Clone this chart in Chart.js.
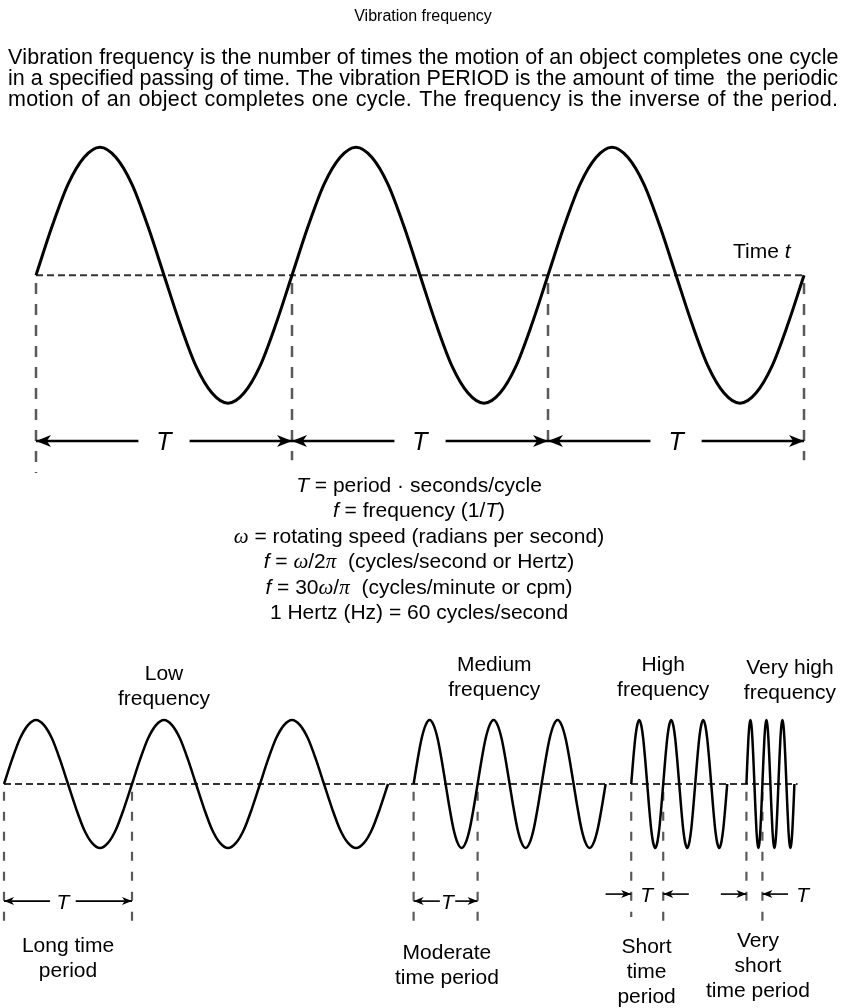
<!DOCTYPE html>
<html>
<head>
<meta charset="utf-8">
<title>Vibration frequency</title>
<script src="https://cdn.jsdelivr.net/npm/chart.js"></script>
<style>
  html, body { margin: 0; padding: 0; background: #ffffff; }
  #box { position: relative; width: 846px; height: 1008px; }
</style>
</head>
<body>
<div id="box"><canvas id="waveChart" width="846" height="1008"></canvas></div>
<script>
// ---- values ----
// x = time, in low-frequency periods; y = displacement, in bottom-wave amplitudes

// one vibration cycle, read every 1/16 of a period (peak = 1)
const cycleShape = [0, 0.38, 0.71, 0.92, 1, 0.92, 0.71, 0.38, 0, -0.38, -0.71, -0.92, -1, -0.92, -0.71, -0.38];

const waveNames   = ['Period T', 'Low frequency', 'Medium frequency', 'High frequency', 'Very high frequency'];
const waveStarts  = [0.25, 0, 3.2, 4.9, 5.8];
const wavePeriods = [2, 1, 0.5, 0.25, 0.125];
const waveCycles  = [3, 3, 3, 3, 3];
const waveAmps    = [2, 1, 1, 1, 1];
const waveBases   = [7.95, 0, 0, 0, 0];

// dashed time axes
const timeAxisTop    = [0.25, 6.25];
const timeAxisBottom = [0, 6.2];

// ---- text ----
const titleText = 'Vibration frequency';
const introLines = [
  'Vibration frequency is the number of times the motion of an object completes one cycle',
  'in a specified passing of time. The vibration PERIOD is the amount of time  the periodic',
  'motion of an object completes one cycle. The frequency is the inverse of the period.'
];
// runs: [text, style]  '' = upright, 'i' = italic, 'g' = greek symbol
const formulaLines = [
  [['T', 'i'], [' = period \u00b7 seconds/cycle', '']],
  [['f', 'i'], [' = frequency (1/', ''], ['T', 'i'], [')', '']],
  [['\u03c9', 'g'], [' = rotating speed (radians per second)', '']],
  [['f', 'i'], [' = ', ''], ['\u03c9', 'g'], ['/2', ''], ['\u03c0', 'g'], ['  (cycles/second or Hertz)', '']],
  [['f', 'i'], [' = 30', ''], ['\u03c9', 'g'], ['/', ''], ['\u03c0', 'g'], ['  (cycles/minute or cpm)', '']],
  [['1 Hertz (Hz) = 60 cycles/second', '']]
];
const waveLabelLines = [
  ['Low', 'frequency'],
  ['Medium', 'frequency'],
  ['High', 'frequency'],
  ['Very high', 'frequency']
];
const periodLabelLines = [
  ['Long time', 'period'],
  ['Moderate', 'time period'],
  ['Short', 'time', 'period'],
  ['Very', 'short', 'time period']
];

// ---- layout ----
const sans = '"Liberation Sans", Arial, Helvetica, sans-serif';
const serif = '"Liberation Serif", "Times New Roman", serif';
const layout = {
  xRange: [-0.03125, 6.578],
  yRange: [-3.5, 12.25],
  lineStep: 0.39,
  topArrowY: 5.36,
  topGap: 0.2,
  topMarkEnds: [4.86, 5.06, 5.27, 5.06],
  timeLabel: { x: 5.92, y: 8.22 },
  // bottom dimension markers, one per bottom wave
  dims: [
    { kind: 'out', y: -1.83, label: 0.46, gap: 0.1, ends: [-2.25, -2.28] },
    { kind: 'out', y: -1.83, label: 3.465, gap: 0.06, ends: [-2.28, -2.28] },
    { kind: 'in', y: -1.72, label: 5.02, reach: 0.2, ends: [-2.08, -2.16] },
    { kind: 'in', y: -1.72, label: 6.24, reach: 0.2, ends: [-1.97, -2.16] }
  ],
  waveLabelPos: [{ x: 1.25, y: 1.625 }, { x: 3.83, y: 1.766 }, { x: 5.15, y: 1.766 }, { x: 6.14, y: 1.72 }],
  periodLabelPos: [{ x: 0.5, y: -2.625 }, { x: 3.46, y: -2.73 }, { x: 5.02, y: -2.64 }, { x: 5.89, y: -2.55 }]
};

// ---- datasets ----
const datasets = [];
const arrowHeads = [];

function segment(x1, y1, x2, y2, color, width, dash, order) {
  datasets.push({
    data: [{ x: x1, y: y1 }, { x: x2, y: y2 }],
    borderColor: color, borderWidth: width, borderDash: dash || [],
    pointRadius: 0, tension: 0, order: order, fill: false
  });
}

waveNames.forEach((name, i) => {
  const pts = [];
  const step = wavePeriods[i] / cycleShape.length;
  for (let c = 0; c < waveCycles[i]; c++) {
    cycleShape.forEach((v, k) => {
      pts.push({ x: waveStarts[i] + (c * cycleShape.length + k) * step, y: waveBases[i] + waveAmps[i] * v });
    });
  }
  pts.push({ x: waveStarts[i] + waveCycles[i] * wavePeriods[i], y: waveBases[i] + waveAmps[i] * cycleShape[0] });
  datasets.push({
    label: name, data: pts, borderColor: '#000', borderWidth: i === 0 ? 3 : 2.5,
    cubicInterpolationMode: 'monotone', pointRadius: 0, order: 0, fill: false
  });
});

// time axes
segment(timeAxisTop[0], waveBases[0], timeAxisTop[1], waveBases[0], '#333', 2, [7, 4], 2);
segment(timeAxisBottom[0], waveBases[1], timeAxisBottom[1], waveBases[1], '#333', 2, [7, 4], 2);

// top wave: period marks and T dimensions
for (let k = 0; k <= waveCycles[0]; k++) {
  const xm = waveStarts[0] + k * wavePeriods[0];
  segment(xm, waveBases[0] - 0.12, xm, layout.topMarkEnds[k], '#5a5a5a', 2.5, [11, 10], 1);
}
for (let k = 0; k < waveCycles[0]; k++) {
  const a = waveStarts[0] + k * wavePeriods[0];
  const b = a + wavePeriods[0];
  const m = (a + b) / 2;
  segment(a, layout.topArrowY, m - layout.topGap, layout.topArrowY, '#000', 2.5, [], 0);
  segment(m + layout.topGap, layout.topArrowY, b, layout.topArrowY, '#000', 2.5, [], 0);
  arrowHeads.push({ x: a, y: layout.topArrowY, dir: -1, big: true });
  arrowHeads.push({ x: b, y: layout.topArrowY, dir: 1, big: true });
}

// bottom waves: first period marked
layout.dims.forEach((d, j) => {
  const i = j + 1;
  const a = waveStarts[i];
  const b = a + wavePeriods[i];
  segment(a, waveBases[i] - 0.12, a, d.ends[0], '#5a5a5a', 2.2, [9, 11], 1);
  segment(b, waveBases[i] - 0.12, b, d.ends[1], '#5a5a5a', 2.2, [9, 11], 1);
  if (d.kind === 'out') {
    segment(a, d.y, d.label - d.gap, d.y, '#000', 1.6, [], 0);
    segment(d.label + d.gap, d.y, b, d.y, '#000', 1.6, [], 0);
    arrowHeads.push({ x: a, y: d.y, dir: -1, big: false });
    arrowHeads.push({ x: b, y: d.y, dir: 1, big: false });
  } else {
    segment(a - d.reach, d.y, a, d.y, '#000', 1.6, [], 0);
    segment(b + d.reach, d.y, b, d.y, '#000', 1.6, [], 0);
    arrowHeads.push({ x: a, y: d.y, dir: 1, big: false });
    arrowHeads.push({ x: b, y: d.y, dir: -1, big: false });
  }
});

// ---- drawing helpers ----
function runFont(style, size) {
  if (style === 'i') return 'italic ' + size + 'px ' + sans;
  if (style === 'g') return 'italic ' + size + 'px ' + serif;
  return size + 'px ' + sans;
}

function drawRuns(ctx, runs, cx, baseY, size) {
  let total = 0;
  const widths = runs.map(([t, s]) => {
    ctx.font = runFont(s, size);
    const w = ctx.measureText(t).width;
    total += w;
    return w;
  });
  let x = cx - total / 2;
  runs.forEach(([t, s], k) => {
    ctx.font = runFont(s, size);
    ctx.fillText(t, x, baseY);
    x += widths[k];
  });
}

// stretch a line to the full text width: a little letter spacing, the rest in the word gaps
function drawJustified(ctx, text, left, right, baseY) {
  const natural = ctx.measureText(text).width;
  const extra = right - left - natural;
  const chars = Array.from(text);
  const words = text.split(' ');
  const perChar = extra * 0.6 / (chars.length - 1);
  const perGap = extra * 0.4 / (words.length - 1);
  let x = left;
  chars.forEach(ch => {
    ctx.fillText(ch, x, baseY);
    x += ctx.measureText(ch).width + perChar + (ch === ' ' ? perGap : 0);
  });
}

function arrowHead(ctx, x, y, dir, len, half) {
  ctx.beginPath();
  ctx.moveTo(x, y);
  ctx.lineTo(x - dir * len, y - half);
  ctx.lineTo(x - dir * len * 0.72, y);
  ctx.lineTo(x - dir * len, y + half);
  ctx.closePath();
  ctx.fill();
}

const overlay = {
  id: 'overlay',
  afterDatasetsDraw(chart) {
    const ctx = chart.ctx;
    const sx = chart.scales.x, sy = chart.scales.y;
    const X = u => sx.getPixelForValue(u);
    const Y = v => sy.getPixelForValue(v);
    const step = Y(0) - Y(layout.lineStep);
    ctx.save();
    ctx.fillStyle = '#000';
    ctx.textBaseline = 'alphabetic';

    // arrow heads
    arrowHeads.forEach(h => {
      if (h.big) arrowHead(ctx, X(h.x), Y(h.y), h.dir, 15, 6);
      else arrowHead(ctx, X(h.x), Y(h.y), h.dir, 10, 4);
    });

    // header
    ctx.textAlign = 'left';
    drawRuns(ctx, [[titleText, '']], 423, 21, 16);
    ctx.font = '21.5px ' + sans;
    introLines.forEach((line, k) => drawJustified(ctx, line, 8, 838, 64 + k * 21));

    // formulas
    formulaLines.forEach((runs, k) => drawRuns(ctx, runs, 419, 492 + k * 25.4, 21));

    // top wave labels
    drawRuns(ctx, [['Time ', ''], ['t', 'i']], X(layout.timeLabel.x), Y(layout.timeLabel.y), 21);
    for (let k = 0; k < waveCycles[0]; k++) {
      const m = waveStarts[0] + (k + 0.5) * wavePeriods[0];
      drawRuns(ctx, [['T', 'i']], X(m), Y(layout.topArrowY) + 9, 25);
    }

    // bottom labels
    ctx.textAlign = 'center';
    ctx.font = '21px ' + sans;
    waveLabelLines.forEach((lines, j) => {
      const p = layout.waveLabelPos[j];
      lines.forEach((t, k) => ctx.fillText(t, X(p.x), Y(p.y) + k * step));
    });
    periodLabelLines.forEach((lines, j) => {
      const p = layout.periodLabelPos[j];
      lines.forEach((t, k) => ctx.fillText(t, X(p.x), Y(p.y) + k * step));
    });
    ctx.textAlign = 'left';
    layout.dims.forEach(d => drawRuns(ctx, [['T', 'i']], X(d.label), Y(d.y) + 7.5, 21));

    ctx.restore();
  }
};

new Chart(document.getElementById('waveChart'), {
  type: 'line',
  data: { datasets: datasets },
  options: {
    responsive: false,
    animation: false,
    devicePixelRatio: 1,
    layout: { padding: 0 },
    plugins: {
      legend: { display: false },
      tooltip: { enabled: false },
      title: { display: false }
    },
    scales: {
      x: { type: 'linear', display: false, min: layout.xRange[0], max: layout.xRange[1] },
      y: { type: 'linear', display: false, min: layout.yRange[0], max: layout.yRange[1] }
    }
  },
  plugins: [overlay]
});
</script>
</body>
</html>
